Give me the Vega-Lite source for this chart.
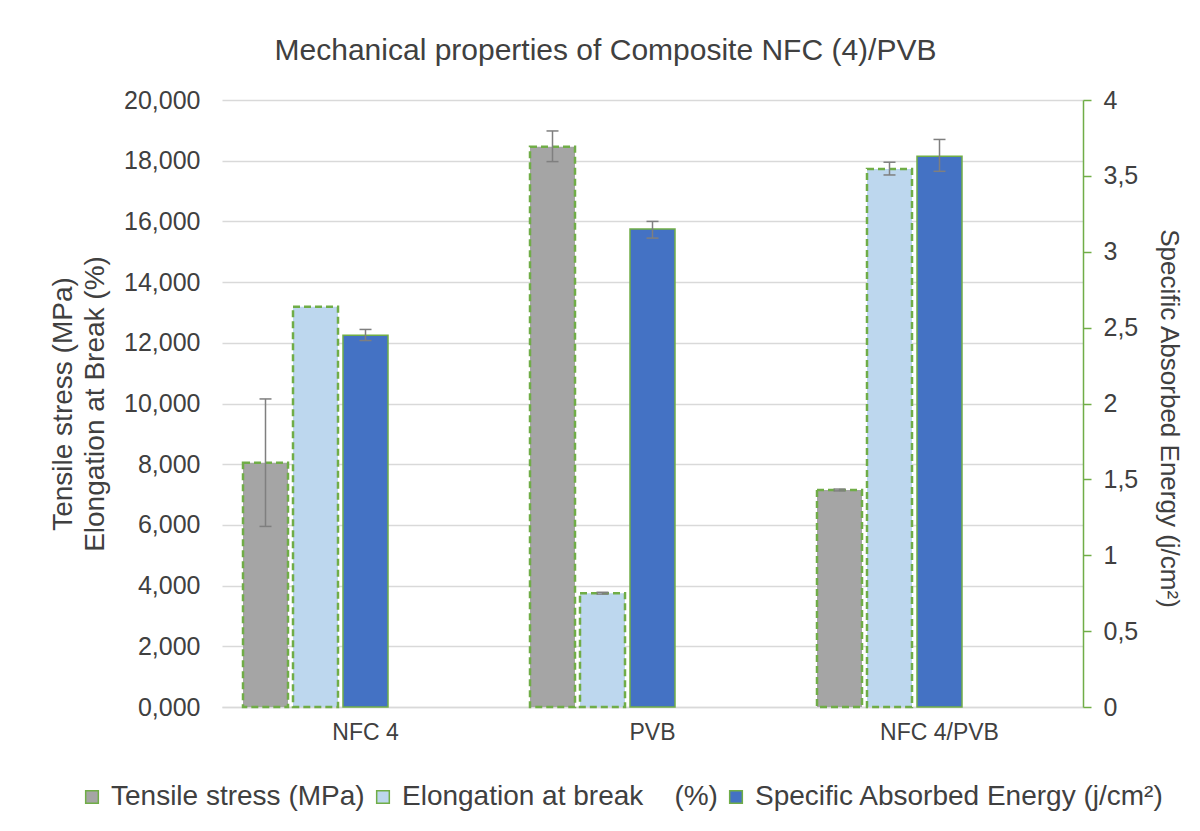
{
  "$schema": "https://vega.github.io/schema/vega-lite/v6.json",
  "width": 861,
  "height": 607,
  "autosize": {"type": "none"},
  "padding": {"left": 222, "top": 100, "right": 117, "bottom": 124},
  "background": "#ffffff",
  "config": {
    "font": "Liberation Sans",
    "view": {"stroke": null},
    "axis": {"labelColor": "#404040", "titleColor": "#404040", "labelFont": "Liberation Sans", "titleFont": "Liberation Sans", "titleFontWeight": "normal"}
  },
  "title": {
    "text": "Mechanical properties of Composite NFC (4)/PVB",
    "anchor": "middle",
    "frame": "group",
    "dx": -47,
    "offset": 22,
    "fontSize": 30,
    "fontWeight": "normal",
    "color": "#404040"
  },
  "data": {
    "values": [
      {"cat": "NFC 4", "series": "Tensile stress (MPa)", "axis": "L", "value": 8.05, "lo": 5.95, "hi": 10.15},
      {"cat": "NFC 4", "series": "Elongation at break\u00a0\u00a0\u00a0\u00a0(%)", "axis": "L", "value": 13.19, "lo": null, "hi": null},
      {"cat": "NFC 4", "series": "Specific Absorbed Energy (j/cm²)", "axis": "R", "value": 2.45, "lo": 2.415, "hi": 2.488},
      {"cat": "PVB", "series": "Tensile stress (MPa)", "axis": "L", "value": 18.46, "lo": 17.97, "hi": 18.98},
      {"cat": "PVB", "series": "Elongation at break\u00a0\u00a0\u00a0\u00a0(%)", "axis": "L", "value": 3.75, "lo": 3.72, "hi": 3.78},
      {"cat": "PVB", "series": "Specific Absorbed Energy (j/cm²)", "axis": "R", "value": 3.15, "lo": 3.09, "hi": 3.2},
      {"cat": "NFC 4/PVB", "series": "Tensile stress (MPa)", "axis": "L", "value": 7.15, "lo": 7.12, "hi": 7.18},
      {"cat": "NFC 4/PVB", "series": "Elongation at break\u00a0\u00a0\u00a0\u00a0(%)", "axis": "L", "value": 17.73, "lo": 17.53, "hi": 17.95},
      {"cat": "NFC 4/PVB", "series": "Specific Absorbed Energy (j/cm²)", "axis": "R", "value": 3.63, "lo": 3.53, "hi": 3.74}
    ]
  },
  "encoding": {
    "x": {
      "field": "cat", "type": "nominal", "sort": ["NFC 4", "PVB", "NFC 4/PVB"],
      "scale": {"paddingInner": 0, "paddingOuter": 0},
      "axis": {"title": null, "labelAngle": 0, "labelFontSize": 23, "labelPadding": 14, "ticks": false, "domainColor": "#d9d9d9", "domainWidth": 1.5}
    },
    "xOffset": {
      "field": "series", "type": "nominal",
      "scale": {"domain": ["Tensile stress (MPa)", "Elongation at break\u00a0\u00a0\u00a0\u00a0(%)", "Specific Absorbed Energy (j/cm²)", "_a", "_b"], "paddingInner": 0.1, "paddingOuter": 0.42}
    }
  },
  "layer": [
    {
      "transform": [{"filter": "datum.axis == 'L'"}],
      "layer": [
        {
          "mark": {"type": "bar", "stroke": "#70ad47", "strokeWidth": 2.5, "strokeDash": [7, 4]},
          "encoding": {
            "y": {
              "field": "value", "type": "quantitative",
              "scale": {"domain": [0, 20]},
              "axis": {
                "values": [0, 2, 4, 6, 8, 10, 12, 14, 16, 18, 20],
                "labelExpr": "replace(format(datum.value, '.3f'), '.', ',')",
                "labelFontSize": 25, "labelPadding": 22, "ticks": false, "domain": false,
                "grid": true, "gridColor": "#d9d9d9", "gridWidth": 1.5,
                "title": ["Tensile stress (MPa)", "Elongation at Break (%)"],
                "titleFontSize": 28, "titlePadding": 14, "titleLineHeight": 32
              }
            },
            "color": {
              "field": "series", "type": "nominal",
              "scale": {"domain": ["Tensile stress (MPa)", "Elongation at break\u00a0\u00a0\u00a0\u00a0(%)", "Specific Absorbed Energy (j/cm²)"], "range": ["#a5a5a5", "#bdd7ee", "#4472c4"]},
              "legend": {
                "orient": "none", "legendX": -144, "legendY": 683, "direction": "horizontal", "title": null,
                "labelFontSize": 28, "labelColor": "#404040", "labelFont": "Liberation Sans", "labelLimit": 0,
                "symbolType": "square", "symbolSize": 160, "symbolStrokeColor": "#70ad47", "symbolStrokeWidth": 1.5,
                "symbolOpacity": 1, "labelOffset": 5, "columnPadding": 4
              }
            }
          }
        },
        {
          "transform": [{"filter": "datum.lo != null"}],
          "mark": {"type": "rule", "color": "#7f7f7f", "strokeWidth": 1.5},
          "encoding": {
            "y": {"field": "lo", "type": "quantitative", "scale": {"domain": [0, 20]},
              "axis": {
                "values": [0, 2, 4, 6, 8, 10, 12, 14, 16, 18, 20],
                "labelExpr": "replace(format(datum.value, '.3f'), '.', ',')",
                "labelFontSize": 25, "labelPadding": 22, "ticks": false, "domain": false,
                "grid": true, "gridColor": "#d9d9d9", "gridWidth": 1.5,
                "title": ["Tensile stress (MPa)", "Elongation at Break (%)"],
                "titleFontSize": 28, "titlePadding": 14, "titleLineHeight": 32
              }},
            "y2": {"field": "hi"}
          }
        },
        {
          "transform": [{"filter": "datum.lo != null"}, {"fold": ["lo", "hi"], "as": ["end", "ev"]}],
          "mark": {"type": "tick", "color": "#7f7f7f", "thickness": 1.5, "size": 12, "opacity": 1},
          "encoding": {"y": {"field": "ev", "type": "quantitative", "scale": {"domain": [0, 20]},
              "axis": {
                "values": [0, 2, 4, 6, 8, 10, 12, 14, 16, 18, 20],
                "labelExpr": "replace(format(datum.value, '.3f'), '.', ',')",
                "labelFontSize": 25, "labelPadding": 22, "ticks": false, "domain": false,
                "grid": true, "gridColor": "#d9d9d9", "gridWidth": 1.5,
                "title": ["Tensile stress (MPa)", "Elongation at Break (%)"],
                "titleFontSize": 28, "titlePadding": 14, "titleLineHeight": 32
              }}}
        }
      ]
    },
    {
      "transform": [{"filter": "datum.axis == 'R'"}],
      "layer": [
        {
          "mark": {"type": "bar", "stroke": "#70ad47", "strokeWidth": 1.5},
          "encoding": {
            "y": {
              "field": "value", "type": "quantitative",
              "scale": {"domain": [0, 4]},
              "axis": {
                "orient": "right",
                "values": [0, 0.5, 1, 1.5, 2, 2.5, 3, 3.5, 4],
                "labelExpr": "replace(format(datum.value, '~g'), '.', ',')",
                "labelFontSize": 25, "labelPadding": 12, "tickSize": 8, "tickColor": "#70ad47", "tickWidth": 1.5,
                "domainColor": "#70ad47", "domainWidth": 1.5, "grid": false,
                "title": "Specific Absorbed Energy (j/cm²)", "titleFontSize": 26, "titlePadding": 18, "titleY": 318
              }
            },
            "color": {"field": "series", "type": "nominal"}
          }
        },
        {
          "mark": {"type": "rule", "color": "#7f7f7f", "strokeWidth": 1.5},
          "encoding": {
            "y": {"field": "lo", "type": "quantitative", "scale": {"domain": [0, 4]},
              "axis": {
                "orient": "right",
                "values": [0, 0.5, 1, 1.5, 2, 2.5, 3, 3.5, 4],
                "labelExpr": "replace(format(datum.value, '~g'), '.', ',')",
                "labelFontSize": 25, "labelPadding": 12, "tickSize": 8, "tickColor": "#70ad47", "tickWidth": 1.5,
                "domainColor": "#70ad47", "domainWidth": 1.5, "grid": false,
                "title": "Specific Absorbed Energy (j/cm²)", "titleFontSize": 26, "titlePadding": 18, "titleY": 318
              }},
            "y2": {"field": "hi"}
          }
        },
        {
          "transform": [{"fold": ["lo", "hi"], "as": ["end", "ev"]}],
          "mark": {"type": "tick", "color": "#7f7f7f", "thickness": 1.5, "size": 12, "opacity": 1},
          "encoding": {"y": {"field": "ev", "type": "quantitative", "scale": {"domain": [0, 4]},
              "axis": {
                "orient": "right",
                "values": [0, 0.5, 1, 1.5, 2, 2.5, 3, 3.5, 4],
                "labelExpr": "replace(format(datum.value, '~g'), '.', ',')",
                "labelFontSize": 25, "labelPadding": 12, "tickSize": 8, "tickColor": "#70ad47", "tickWidth": 1.5,
                "domainColor": "#70ad47", "domainWidth": 1.5, "grid": false,
                "title": "Specific Absorbed Energy (j/cm²)", "titleFontSize": 26, "titlePadding": 18, "titleY": 318
              }}}
        }
      ]
    }
  ],
  "resolve": {"scale": {"y": "independent"}}
}
